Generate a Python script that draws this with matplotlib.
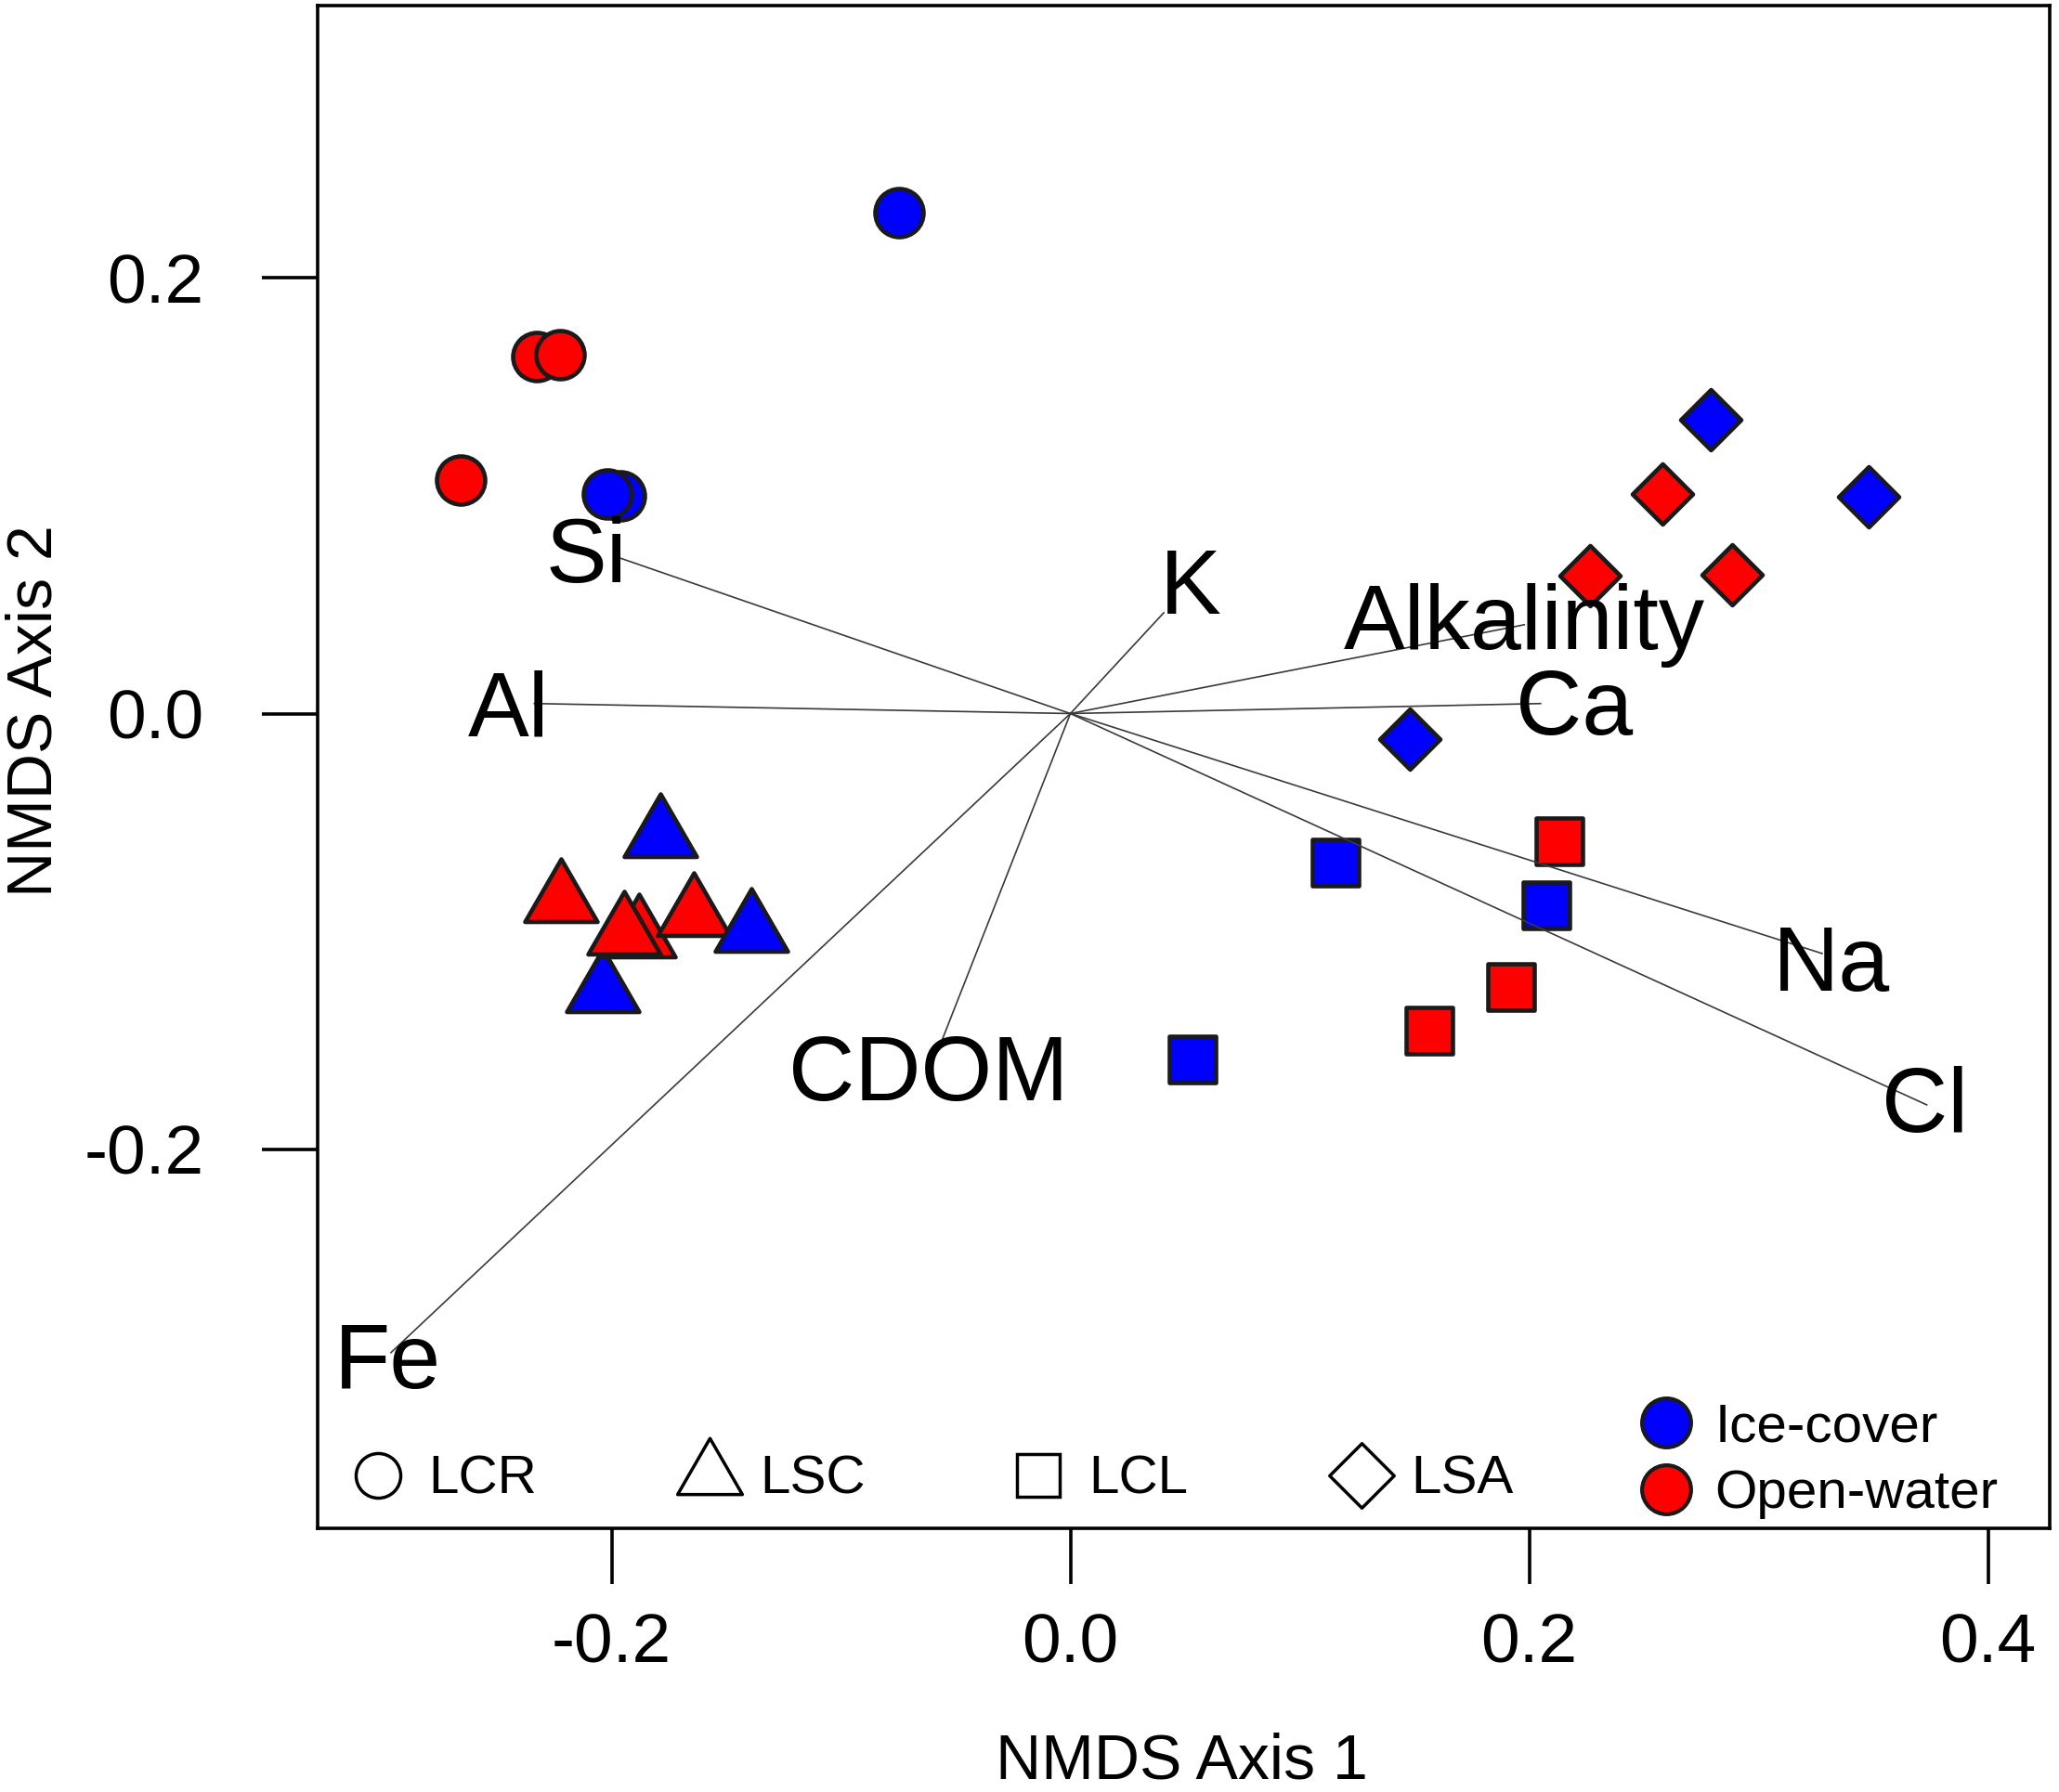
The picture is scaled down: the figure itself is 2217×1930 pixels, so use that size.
import matplotlib
matplotlib.use("Agg")
import matplotlib.pyplot as plt
from matplotlib.markers import MarkerStyle
from matplotlib.lines import Line2D
from matplotlib.path import Path

plt.rcParams['font.family'] = ['Liberation Sans', 'DejaVu Sans']

# NMDS site scores, per lake (in plotting order)
lcr_x = [-0.0746, -0.2328, -0.2224, -0.2660, -0.1961, -0.2018]
lcr_y = [0.2299, 0.1641, 0.1647, 0.1074, 0.1001, 0.1007]
lcr_season = ['Ice-cover', 'Open-water', 'Open-water', 'Open-water', 'Ice-cover', 'Ice-cover']

lsc_x = [-0.2037, -0.1880, -0.1945, -0.2220, -0.1789, -0.1643, -0.1390]
lsc_y = [-0.1275, -0.1020, -0.1009, -0.0859, -0.0561, -0.0923, -0.0994]
lsc_season = ['Ice-cover', 'Open-water', 'Open-water', 'Open-water', 'Ice-cover', 'Open-water', 'Ice-cover']

lcl_x = [0.1157, 0.2132, 0.2074, 0.1919, 0.1564, 0.0532]
lcl_y = [-0.0683, -0.0586, -0.0882, -0.1257, -0.1456, -0.1589]
lcl_season = ['Ice-cover', 'Open-water', 'Ice-cover', 'Open-water', 'Open-water', 'Ice-cover']

lsa_x = [0.2791, 0.2579, 0.3479, 0.2264, 0.2883, 0.1478]
lsa_y = [0.1351, 0.1007, 0.0995, 0.0633, 0.0639, -0.0116]
lsa_season = ['Ice-cover', 'Open-water', 'Ice-cover', 'Open-water', 'Open-water', 'Ice-cover']

# envfit vectors
vec_names = ['Si', 'Al', 'K', 'Alkalinity', 'Ca', 'Na', 'Cl', 'CDOM', 'Fe']
vec_x = [-0.1982, -0.2337, 0.0407, 0.1979, 0.2050, 0.3277, 0.3733, -0.0557, -0.2962]
vec_y = [0.0721, 0.0046, 0.0463, 0.0408, 0.0046, -0.1102, -0.1797, -0.1493, -0.2935]
lab_x = [-0.2110, -0.2451, 0.0523, 0.1979, 0.2195, 0.3319, 0.3723, -0.0619, -0.2976]
lab_y = [0.0714, 0.0006, 0.0568, 0.0405, 0.0011, -0.1163, -0.1812, -0.1668, -0.2990]

lakes = ['LCR', 'LSC', 'LCL', 'LSA']
seasons = ['Ice-cover', 'Open-water']
season_colors = {'Ice-cover': '#0000FF', 'Open-water': '#FF0000'}

tri = MarkerStyle(Path.unit_regular_polygon(3), joinstyle='miter')
dia = MarkerStyle(Path.unit_regular_polygon(4), joinstyle='miter')
sq = MarkerStyle('s', joinstyle='miter')
circ = MarkerStyle('o')

fig = plt.figure(figsize=(22.17, 19.30), dpi=100)
ax = fig.add_axes([0.1541, 0.1469, 0.8416, 0.8498])

groups = [
    (lcr_x, lcr_y, lcr_season, circ, 1400),
    (lsc_x, lsc_y, lsc_season, tri, 4200),
    (lcl_x, lcl_y, lcl_season, sq, 1245),
    (lsa_x, lsa_y, lsa_season, dia, 2190),
]
for xs, ys, ss, mk, size in groups:
    for x, y, s in zip(xs, ys, ss):
        ax.scatter(x, y, s=size, marker=mk, c=season_colors[s],
                   edgecolors='#1a1a1a', linewidths=3.3, zorder=2)

for vx, vy in zip(vec_x, vec_y):
    ax.plot([0, vx], [0, vy], color='#3a3a3a', lw=1.2, zorder=3)
for name, tx, ty in zip(vec_names, lab_x, lab_y):
    ax.text(tx, ty, name, fontsize=71, ha='center', va='center', zorder=4)

ax.set_xlim(-0.3283, 0.4271)
ax.set_ylim(-0.3744, 0.325)
ax.set_xticks([-0.2, 0.0, 0.2, 0.4])
ax.set_xticklabels(['-0.2', '0.0', '0.2', '0.4'])
ax.set_yticks([-0.2, 0.0, 0.2])
ax.set_yticklabels(['-0.2', '0.0', '0.2'])
for sp in ax.spines.values():
    sp.set_linewidth(2.6)
ax.tick_params(axis='x', length=43, width=2.6, pad=22, labelsize=54)
ax.tick_params(axis='y', length=43, width=2.6, pad=45, labelsize=54)

fig.text(1272 / 2217, 0.0, 'NMDS Axis 1', fontsize=49, ha='center', va='bottom')
fig.text(37.5 / 2217, 1 - 766 / 1930, 'NMDS Axis 2', fontsize=49,
         rotation=90, ha='center', va='center')

# lake legend (open symbols)
shape_handles = [
    Line2D([], [], ls='None', marker=circ, markersize=34.6, mfc='white', mec='black', mew=2.5),
    Line2D([], [], ls='None', marker=tri, markersize=58, mfc='white', mec='black', mew=2.5),
    Line2D([], [], ls='None', marker=sq, markersize=33, mfc='white', mec='black', mew=2.5),
    Line2D([], [], ls='None', marker=dia, markersize=50, mfc='white', mec='black', mew=2.5),
]
leg1 = ax.legend(shape_handles, lakes, ncol=4, frameon=False, fontsize=42,
                 loc='center left', bbox_to_anchor=(0.0195, 0.032),
                 borderpad=0, borderaxespad=0, handlelength=1.0,
                 handletextpad=0.42, columnspacing=2.7)
ax.add_artist(leg1)

season_handles = [
    Line2D([], [], ls='None', marker='o', markersize=38, mfc=season_colors[s],
           mec='#1a1a1a', mew=3) for s in seasons
]
ax.legend(season_handles, seasons, frameon=False, fontsize=42,
          loc='center left', bbox_to_anchor=(0.7628, 0.0445),
          borderpad=0, borderaxespad=0, handlelength=1.0,
          handletextpad=0.40, labelspacing=0.30)

fig.savefig('out.png', dpi=100)
